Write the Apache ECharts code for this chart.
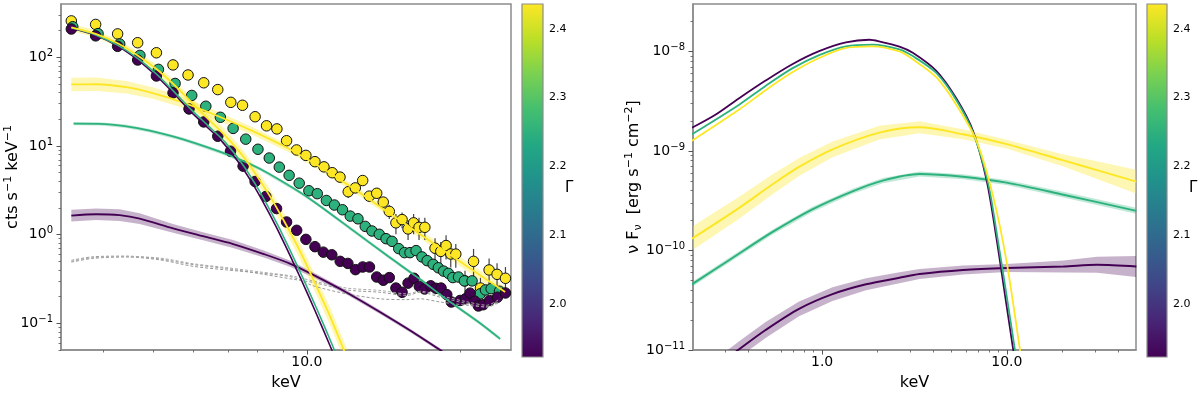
<!DOCTYPE html>
<html>
<head>
<meta charset="utf-8">
<title>spectra</title>
<script src="https://cdn.jsdelivr.net/npm/echarts@6/dist/echarts.min.js"></script>
<style>
html, body { margin: 0; padding: 0; background: #fff; }
#main { width: 1200px; height: 396px; }
</style>
</head>
<body>
<div id="main"></div>
<script>
// ---------- left panel: count spectra (keV, cts s^-1 keV^-1, 1 sigma) ----------
var yelE = [3.457,3.858,4.260,4.663,5.074,5.468,5.852,6.281,6.691,7.096,7.480,7.918,8.337,8.735,9.125,9.546,9.955,10.37,10.80,11.21,11.61,12.05,12.44,12.86,13.25,13.70,14.11,14.50,14.94,15.36,15.78,16.18,16.58,17.02,17.82,18.29,18.73,19.13,19.57,20.40,21.20,21.87,22.74,23.57,24.48];
var yelF = [257.8,235.3,184,146.3,112.7,82.2,63.3,51.7,43.3,31.1,28.8,21.4,16.9,15.6,11.47,9.03,7.84,6.66,5.82,5.00,4.46,3.05,3.37,4.08,2.72,2.93,2.33,1.83,1.36,1.48,1.16,1.36,1.21,1.21,0.703,0.648,0.754,0.605,0.604,0.301,0.500,0.250,0.400,0.357,0.322];
var yelErr = [0,0,0,0,0,0,0,0,0,0,0,0,0,0,0,0,0,0,0,0,0,0.46,0.43,0.41,0.35,0.37,0.30,0.33,0.35,0.30,0.29,0.35,0.34,0.34,0.21,0.18,0.23,0.18,0.18,0.09,0.19,0.076,0.14,0.12,0.11];

var grnE = [3.48,3.90,4.30,4.71,5.12,5.52,5.95,6.34,6.77,7.17,7.59,8.02,8.44,8.83,9.23,9.66,10.09,10.48,10.92,11.32,11.74,12.16,12.59,13.01,13.41,13.86,14.29,14.68,15.13,15.53,15.92,16.36,16.80,17.20,17.67,18.09,18.52,18.93,19.31,19.81,20.34,21.06,21.84,22.37,22.95,23.83];
var grnF = [221.4,185.3,141.6,105.2,73.2,50.8,37.2,28.1,21.1,15.8,11.95,9.19,7.32,5.78,4.67,3.81,3.13,2.90,2.43,2.16,1.91,1.62,1.51,1.24,1.10,1.01,0.901,0.841,0.696,0.627,0.627,0.661,0.561,0.509,0.463,0.423,0.388,0.366,0.328,0.333,0.301,0.301,0.215,0.238,0.246,0.230];
var grnErr = [0,0,0,0,0,0,0,0,0,0,0,0,0,0,0,0,0,0,0,0,0.06,0.06,0.06,0.06,0.06,0.06,0.05,0.05,0.05,0.05,0.05,0.05,0.05,0.05,0.045,0.04,0.04,0.04,0.035,0.035,0.035,0.035,0.03,0.03,0.03,0.03];

var purE = [3.457,3.858,4.260,4.663,5.074,5.468,5.877,6.281,6.691,7.086,7.500,7.918,8.310,8.722,9.125,9.550,9.955,10.37,10.77,11.19,11.62,12.03,12.45,12.86,13.26,13.70,14.11,14.50,14.94,15.36,15.78,16.21,16.60,17.01,17.48,17.90,18.31,18.79,19.18,19.95,20.43,20.87,21.32,21.67,22.14,22.78,23.61,24.48];
var purF = [208.8,174.8,133.2,93.4,61.7,39.8,26.2,18.7,12.9,8.74,5.93,3.98,2.70,1.97,1.39,1.12,0.885,0.732,0.635,0.593,0.500,0.474,0.403,0.432,0.432,0.333,0.306,0.328,0.250,0.224,0.284,0.322,0.261,0.244,0.265,0.248,0.250,0.211,0.174,0.181,0.189,0.219,0.178,0.157,0.162,0.181,0.197,0.220];

// power-law components with uncertainty bands
var lPlYelE = [3.457,3.869,4.431,4.989,5.714,6.651,7.836,9.262,10.60,12.31,14.33,16.66,19.33,21.84,24.45];
var lPlYelF = [49.5,49.75,46.1,39.6,31.1,22.1,14.7,9.19,5.82,3.33,1.834,1.010,0.563,0.348,0.226];
var lPlYelLo = [41.6,41.8,39.2,34.1,27.1,19.7,13.3,8.39,5.31,3.04,1.673,0.911,0.502,0.307,0.197];
var lPlYelHi = [58.9,59.2,54.2,46.0,35.7,24.8,16.3,10.07,6.38,3.65,2.01,1.120,0.632,0.395,0.259];

var lPlGrnE = [3.493,3.927,4.431,4.922,5.721,6.958,8.087,9.689,10.60,12.31,14.29,16.66,18.82,21.84,23.90];
var lPlGrnF = [17.9,17.8,16.7,14.9,11.9,8.10,5.53,3.01,2.11,1.118,0.593,0.314,0.1844,0.1003,0.0668];
var lPlGrnLo = [17.1,17.0,15.95,14.2,11.4,7.74,5.28,2.87,2.02,1.068,0.566,0.300,0.176,0.0958,0.0638];
var lPlGrnHi = [18.7,18.6,17.5,15.6,12.5,8.48,5.79,3.15,2.21,1.171,0.621,0.329,0.193,0.105,0.0699];

var lPlPurE = [3.457,3.869,4.299,4.705,5.468,6.262,7.170,8.209,9.262,10.29,11.96,13.90,16.16,18.23,19.51];
var lPlPurF = [1.636,1.700,1.657,1.516,1.177,0.960,0.784,0.608,0.472,0.352,0.223,0.1342,0.0788,0.0499,0.0392];
var lPlPurLo = [1.405,1.460,1.424,1.321,1.049,0.866,0.707,0.555,0.435,0.328,0.211,0.1276,0.0753,0.0477,0.0374];
var lPlPurHi = [1.904,1.979,1.929,1.740,1.321,1.065,0.869,0.666,0.512,0.377,0.236,0.1412,0.0825,0.0522,0.0410];

// steep thermal components
var lBbYelE = [3.457,3.858,4.260,4.663,5.074,5.468,5.896,6.339,6.844,7.389,7.907,8.463,9.055,9.689,10.37,11.10,11.87,12.42];
var lBbYelF = [218,184,144.5,105.2,73.8,50.4,32.7,21.5,13.98,8.52,5.00,2.72,1.370,0.656,0.284,0.1198,0.0468,0.0248];
var lBbYelLo = [198.9,167.9,131.8,94.9,65.8,44.9,28.8,18.7,12.04,7.25,4.21,2.26,1.127,0.533,0.228,0.0952,0.0372,0.0197];
var lBbYelHi = [238.9,201.7,158.4,116.7,82.8,56.5,37.1,24.7,16.23,10.01,5.95,3.27,1.666,0.807,0.354,0.1508,0.0589,0.0312];

var lBbGrnE = [3.457,3.858,4.260,4.663,5.074,5.468,5.963,6.411,6.921,7.472,7.996,8.559,9.157,9.798,10.49,11.23,12.00];
var lBbGrnF = [215.3,179.3,137.3,97.5,64.9,42.2,25.1,16.9,10.99,6.28,3.42,1.678,0.774,0.335,0.1395,0.0559,0.0219];

var lBbPurE = [3.457,3.858,4.260,4.663,5.074,5.468,5.896,6.339,6.844,7.389,7.907,8.463,9.055,9.689,10.37,11.10,11.87];
var lBbPurF = [212.6,177.1,133.9,93.8,61.7,40.1,25.1,16.9,10.99,6.28,3.42,1.678,0.774,0.335,0.1395,0.0559,0.0219];

// backgrounds
var bgE = [3.457,3.811,4.431,5.150,5.985,6.958,8.087,9.399,10.29,11.96,13.90,15.69,16.66,18.23,20.56,22.51,23.90];
var bg1F = [0.513,0.563,0.573,0.532,0.460,0.415,0.363,0.314,0.289,0.238,0.224,0.206,0.224,0.197,0.167,0.153,0.181];
var bg2F = [0.490,0.540,0.560,0.520,0.440,0.400,0.370,0.330,0.265,0.215,0.189,0.185,0.189,0.174,0.160,0.153,0.174];
var bg3F = [0.500,0.550,0.565,0.545,0.470,0.425,0.380,0.340,0.300,0.250,0.235,0.215,0.230,0.205,0.175,0.160,0.190];

// ---------- right panel: unfolded nuFnu (keV, erg s^-1 cm^-2) ----------
var rBbPurE = [0.1973,0.2644,0.3539,0.4943,0.6895,0.9632,1.345,1.800,2.041,2.621,3.096,4.149,5.330,6.559,7.759,8.790,9.752,10.82,11.48];
var rBbPurF = [1.71e-9,2.31e-9,3.37e-9,5.10e-9,7.45e-9,1.007e-8,1.234e-8,1.312e-8,1.263e-8,1.12e-8,9.71e-9,6.40e-9,3.37e-9,1.59e-9,5.12e-10,1.32e-10,3.64e-11,1.01e-11,4.7e-12];
var rBbGrnE = [0.1973,0.3539,0.4943,0.6895,0.9632,1.345,1.876,2.621,3.096,4.149,5.330,6.559,7.883,8.935,9.938,11.05,11.77];
var rBbGrnF = [1.47e-9,2.90e-9,4.51e-9,6.76e-9,9.2e-9,1.127e-8,1.172e-8,1.05e-8,8.99e-9,6.08e-9,3.24e-9,1.53e-9,4.92e-10,1.27e-10,3.64e-11,1.01e-11,4.7e-12];
var rBbYelE = [0.1973,0.3539,0.4943,0.6895,0.9632,1.345,1.876,2.621,3.096,4.149,5.330,6.843,8.424,9.963,11.77,12.53];
var rBbYelF = [1.265e-9,2.59e-9,4.08e-9,6.17e-9,8.6e-9,1.087e-8,1.127e-8,1.0e-8,8.34e-9,5.51e-9,2.90e-9,1.265e-9,3.50e-10,7.74e-11,1.01e-11,4.7e-12];

var rPlYelE = [0.1973,0.3539,0.5369,0.7499,1.138,2.041,3.367,5.787,9.963,20.23,30.73,50.23];
var rPlYelF = [1.315e-10,2.67e-10,4.60e-10,6.91e-10,1.039e-9,1.529e-9,1.73e-9,1.47e-9,1.172e-9,8.04e-10,6.42e-10,4.92e-10];
var rPlYelLo = [9.98e-11,2.07e-10,3.65e-10,5.62e-10,8.64e-10,1.301e-9,1.507e-9,1.310e-9,1.057e-9,7.00e-10,5.22e-10,3.73e-10];
var rPlYelHi = [1.733e-10,3.44e-10,5.79e-10,8.50e-10,1.249e-9,1.797e-9,1.986e-9,1.649e-9,1.300e-9,9.23e-10,7.90e-10,6.48e-10];

var rPlGrnE = [0.1973,0.3254,0.5369,0.8856,1.461,2.127,3.367,5.787,9.963,20.23,50.23];
var rPlGrnF = [4.57e-11,8.36e-11,1.527e-10,2.59e-10,3.93e-10,5.04e-10,5.86e-10,5.51e-10,4.81e-10,3.64e-10,2.50e-10];
var rPlGrnLo = [4.31e-11,7.89e-11,1.441e-10,2.44e-10,3.71e-10,4.75e-10,5.53e-10,5.20e-10,4.54e-10,3.40e-10,2.33e-10];
var rPlGrnHi = [4.84e-11,8.86e-11,1.619e-10,2.75e-10,4.17e-10,5.34e-10,6.21e-10,5.84e-10,5.10e-10,3.90e-10,2.68e-10];

var rPlPurE = [0.2756,0.3539,0.4943,0.7499,1.138,1.728,2.621,3.367,5.787,9.963,20.23,30.73,50.23];
var rPlPurF = [7.1e-12,1.01e-11,1.587e-11,2.59e-11,3.64e-11,4.57e-11,5.32e-11,5.79e-11,6.36e-11,6.67e-11,6.91e-11,7.18e-11,6.91e-11];
var rPlPurLo = [5.91e-12,8.40e-12,1.320e-11,2.18e-11,3.10e-11,3.98e-11,4.69e-11,5.16e-11,5.73e-11,6.09e-11,6.02e-11,5.97e-11,5.42e-11];
var rPlPurHi = [8.53e-12,1.214e-11,1.908e-11,3.08e-11,4.28e-11,5.25e-11,6.04e-11,6.50e-11,7.05e-11,7.31e-11,7.93e-11,8.63e-11,8.80e-11];

// ---------- ticks ----------
var lxMajor = [10];
var lxMinor = [4,5,6,7,8,9,20];
var lyMajor = [0.1,1,10,100];
var lyMinor = [0.05,0.06,0.07,0.08,0.09,0.2,0.3,0.4,0.5,0.6,0.7,0.8,0.9,2,3,4,5,6,7,8,9,20,30,40,50,60,70,80,90,200,300];
var rxMajor = [1,10];
var rxMinor = [0.3,0.4,0.5,0.6,0.7,0.8,0.9,2,3,4,5,6,7,8,9,20,30,40];
var ryMajor = [1e-11,1e-10,1e-9,1e-8];
var ryMinor = [2e-11,3e-11,4e-11,5e-11,6e-11,7e-11,8e-11,9e-11,2e-10,3e-10,4e-10,5e-10,6e-10,7e-10,8e-10,9e-10,2e-9,3e-9,4e-9,5e-9,6e-9,7e-9,8e-9,9e-9,2e-8];
var gammaTicks = [2.0,2.1,2.2,2.3,2.4];
var gammaRange = [1.923,2.436];

// ---------- styling ----------
var PUR = '#440154', GRN = '#2db27d', YEL = '#fde725';
var VIRIDIS = ['#440154','#482475','#414487','#355f8d','#2a788e','#21918c','#22a884','#44bf70','#7ad151','#bddf26','#fde725'];
var SPINE = '#8c8c8c', TICK = '#555';
var FONT = 'DejaVu Sans';

function pairs(xs, ys) { return xs.map(function (x, i) { return [x, ys[i]]; }); }

function supLabel(v) {
    var p = Math.round(Math.log(v) / Math.LN10);
    return '{b|10}{s|' + (p < 0 ? '\u2212' + (-p) : p) + '}';
}
var supRich = {
    b: { fontSize: 14, lineHeight: 18, color: '#000', fontFamily: FONT },
    s: { fontSize: 10, lineHeight: 9, verticalAlign: 'top', color: '#000', fontFamily: FONT }
};
function oneDecimal(v) { return v.toFixed(1); }

function majorAxis(grid, min, max, pos, ticks, fmt, rich, margin) {
    return {
        type: 'log', logBase: 10, gridIndex: grid, min: min, max: max, position: pos, offset: 0,
        axisLine: { show: true, onZero: false, lineStyle: { color: SPINE, width: 1.5 } },
        axisTick: { show: true, customValues: ticks, length: 4.5, lineStyle: { color: TICK, width: 1 } },
        axisLabel: { show: true, customValues: ticks, formatter: fmt, rich: rich, margin: margin,
                     fontSize: 14, color: '#000', fontFamily: FONT },
        splitLine: { show: false }, nameMoveOverlap: false
    };
}
function minorAxis(grid, min, max, pos, ticks) {
    return {
        type: 'log', logBase: 10, gridIndex: grid, min: min, max: max, position: pos, offset: 0,
        axisLine: { show: false },
        axisTick: { show: true, customValues: ticks, length: 2.5, lineStyle: { color: TICK, width: 0.8 } },
        axisLabel: { show: false }, splitLine: { show: false }
    };
}
function cbarX(grid) {
    return { type: 'value', gridIndex: grid, min: 0, max: 1, show: false };
}
function cbarY(grid) {
    return {
        type: 'value', gridIndex: grid, min: gammaRange[0], max: gammaRange[1], position: 'right',
        axisLine: { show: false },
        axisTick: { show: true, customValues: gammaTicks, length: 3.5, lineStyle: { color: TICK } },
        axisLabel: { customValues: gammaTicks, formatter: oneDecimal, fontSize: 11, color: '#000', margin: 6, fontFamily: FONT },
        splitLine: { show: false },
        name: '\u0393', nameLocation: 'middle', nameRotate: 0, nameGap: 22, nameMoveOverlap: false,
        nameTextStyle: { fontSize: 15, color: '#000', fontFamily: FONT, verticalAlign: 'top' }
    };
}

var axisNameStyle = {
    color: '#000', fontFamily: FONT, fontSize: 16,
    rich: {
        n: { fontSize: 16, lineHeight: 20, color: '#000', fontFamily: FONT },
        s: { fontSize: 11, lineHeight: 9, verticalAlign: 'top', color: '#000', fontFamily: FONT },
        u: { fontSize: 11, lineHeight: 12, verticalAlign: 'bottom', color: '#000', fontFamily: FONT }
    }
};

// x axes: 0 left major, 1 left minor, 2 cbar, 3 right major, 4 right minor, 5 cbar
var xAxes = [
    Object.assign(majorAxis(0, 3.3, 25.1, 'bottom', lxMajor, oneDecimal, null, 5),
        { name: 'keV', nameLocation: 'middle', nameGap: 25, nameTextStyle: axisNameStyle }),
    minorAxis(0, 3.3, 25.1, 'bottom', lxMinor),
    cbarX(1),
    Object.assign(majorAxis(2, 0.2, 50, 'bottom', rxMajor, oneDecimal, null, 5),
        { name: 'keV', nameLocation: 'middle', nameGap: 25, nameTextStyle: axisNameStyle }),
    minorAxis(2, 0.2, 50, 'bottom', rxMinor),
    cbarX(3)
];
var yAxes = [
    Object.assign(majorAxis(0, 0.05, 400, 'left', lyMajor, supLabel, supRich, 8),
        { name: '{n|cts s}{s|\u22121}{n| keV}{s|\u22121}', nameLocation: 'middle', nameGap: 38, nameTextStyle: axisNameStyle }),
    minorAxis(0, 0.05, 400, 'left', lyMinor),
    cbarY(1),
    Object.assign(majorAxis(2, 1e-11, 3e-8, 'left', ryMajor, supLabel, supRich, 8),
        { name: '{n|\u03bd F}{u|\u03bd}{n|  [erg s}{s|\u22121}{n| cm}{s|\u22122}{n|]}', nameLocation: 'middle', nameGap: 49, nameTextStyle: axisNameStyle }),
    minorAxis(2, 1e-11, 3e-8, 'left', ryMinor),
    cbarY(3)
];

function lineS(xi, yi, xs, ys, color, width, dash) {
    return {
        type: 'line', xAxisIndex: xi, yAxisIndex: yi, data: pairs(xs, ys),
        showSymbol: false, smooth: 0.3, clip: true, silent: true,
        lineStyle: { color: color, width: width, type: dash || 'solid' }
    };
}
function bandS(xi, yi, xs, lo, hi, color, alpha) {
    return {
        type: 'custom', xAxisIndex: xi, yAxisIndex: yi, clip: true, silent: true,
        data: pairs(xs, lo),
        renderItem: function (params, api) {
            if (params.dataIndex !== 0) return null;
            var pts = [], i;
            for (i = 0; i < xs.length; i++) pts.push(api.coord([xs[i], hi[i]]));
            for (i = xs.length - 1; i >= 0; i--) pts.push(api.coord([xs[i], lo[i]]));
            return { type: 'polygon', shape: { points: pts }, style: { fill: color, opacity: alpha } };
        }
    };
}
function errS(xs, ys, es) {
    var d = [];
    xs.forEach(function (x, i) { if (es[i] > 0) d.push([x, ys[i], es[i]]); });
    return {
        type: 'custom', xAxisIndex: 0, yAxisIndex: 0, clip: true, silent: true, data: d,
        renderItem: function (params, api) {
            var x = api.value(0), y = api.value(1), e = api.value(2);
            var a = api.coord([x, y + e]), b = api.coord([x, y - e]);
            return { type: 'line', shape: { x1: a[0], y1: a[1], x2: b[0], y2: b[1] },
                     style: { stroke: '#444', lineWidth: 1.2 } };
        }
    };
}
function scatterS(xs, ys, color) {
    return {
        type: 'scatter', xAxisIndex: 0, yAxisIndex: 0, data: pairs(xs, ys), silent: true,
        symbol: 'circle', symbolSize: 10.5,
        itemStyle: { color: color, borderColor: '#111', borderWidth: 1, opacity: 1 }
    };
}
function cbarS(xi, yi) {
    var stops = VIRIDIS.map(function (c, i) { return { offset: i / (VIRIDIS.length - 1), color: c }; });
    return {
        type: 'custom', xAxisIndex: xi, yAxisIndex: yi, silent: true,
        data: [[0, gammaRange[0], 1, gammaRange[1]]],
        renderItem: function (params, api) {
            var p0 = api.coord([api.value(0), api.value(1)]);
            var p1 = api.coord([api.value(2), api.value(3)]);
            return { type: 'rect',
                     shape: { x: p0[0], y: p1[1], width: p1[0] - p0[0], height: p0[1] - p1[1] },
                     style: { fill: new echarts.graphic.LinearGradient(0, 1, 0, 0, stops), stroke: SPINE, lineWidth: 1.2 } };
        }
    };
}

var series = [
    // left panel
    lineS(0, 0, bgE, bg1F, '#999', 1, [3, 2]),
    lineS(0, 0, bgE, bg2F, '#999', 1, [3, 2]),
    lineS(0, 0, bgE, bg3F, '#aaa', 1, [3, 2]),
    bandS(0, 0, lPlPurE, lPlPurLo, lPlPurHi, PUR, 0.3),
    bandS(0, 0, lPlGrnE, lPlGrnLo, lPlGrnHi, GRN, 0.3),
    bandS(0, 0, lPlYelE, lPlYelLo, lPlYelHi, YEL, 0.35),
    bandS(0, 0, lBbYelE, lBbYelLo, lBbYelHi, YEL, 0.35),
    lineS(0, 0, lPlPurE, lPlPurF, PUR, 1.8),
    lineS(0, 0, lPlGrnE, lPlGrnF, GRN, 1.8),
    lineS(0, 0, lPlYelE, lPlYelF, YEL, 1.8),
    lineS(0, 0, lBbPurE, lBbPurF, PUR, 1.6),
    lineS(0, 0, lBbGrnE, lBbGrnF, GRN, 1.6),
    lineS(0, 0, lBbYelE, lBbYelF, YEL, 1.8),
    errS(yelE, yelF, yelErr),
    errS(grnE, grnF, grnErr),
    scatterS(yelE, yelF, YEL),
    scatterS(grnE, grnF, GRN),
    scatterS(purE, purF, PUR),
    // colourbars
    cbarS(2, 2),
    cbarS(5, 5),
    // right panel
    bandS(3, 3, rPlPurE, rPlPurLo, rPlPurHi, PUR, 0.3),
    bandS(3, 3, rPlGrnE, rPlGrnLo, rPlGrnHi, GRN, 0.3),
    bandS(3, 3, rPlYelE, rPlYelLo, rPlYelHi, YEL, 0.35),
    lineS(3, 3, rPlPurE, rPlPurF, PUR, 2),
    lineS(3, 3, rPlGrnE, rPlGrnF, GRN, 2),
    lineS(3, 3, rPlYelE, rPlYelF, YEL, 2),
    lineS(3, 3, rBbPurE, rBbPurF, PUR, 1.8),
    lineS(3, 3, rBbGrnE, rBbGrnF, GRN, 1.8),
    lineS(3, 3, rBbYelE, rBbYelF, YEL, 1.8)
];

var gridStyle = { show: true, borderColor: SPINE, borderWidth: 1.5, backgroundColor: 'transparent' };
var chart = echarts.init(document.getElementById('main'), null, { renderer: 'canvas' });
chart.setOption({
    animation: false,
    textStyle: { fontFamily: FONT },
    grid: [
        Object.assign({ left: 61, top: 4, width: 450, height: 353 }, gridStyle),
        { left: 522, top: 4, width: 21, height: 353, show: false },
        Object.assign({ left: 693, top: 4, width: 443, height: 353 }, gridStyle),
        { left: 1147, top: 4, width: 20, height: 353, show: false }
    ],
    xAxis: xAxes,
    yAxis: yAxes,
    series: series
});
</script>
</body>
</html>
